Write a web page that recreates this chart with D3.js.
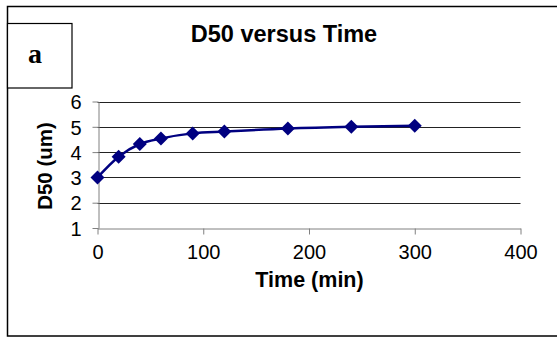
<!DOCTYPE html>
<html>
<head>
<meta charset="utf-8">
<script src="https://cdn.jsdelivr.net/npm/d3@7"></script>
<style>
  body { margin: 0; background: #fff; }
  text { font-family: Arial, "Liberation Sans", sans-serif; fill: #000; }
</style>
</head>
<body>
<div id="chart"></div>
<script>
var svgWidth = 557;
var svgHeight = 338;

// data
var timeMin = [0, 20, 40, 60, 90, 120, 180, 240, 300];
var d50 = [3.0, 3.82, 4.32, 4.54, 4.74, 4.81, 4.93, 5.0, 5.04];
var xTicks = [0, 100, 200, 300, 400];
var yTicks = [1, 2, 3, 4, 5, 6];

var data = timeMin.map((t, i) => ({ t: t, d: d50[i] }));

var svg = d3.select("#chart")
  .append("svg")
  .attr("width", svgWidth)
  .attr("height", svgHeight);

// outer frame
svg.append("rect")
  .attr("x", 7.5).attr("y", 6.5)
  .attr("width", 560).attr("height", 329.5)
  .attr("fill", "none").attr("stroke", "#000").attr("stroke-width", 1.5);

// "a" box
svg.append("rect")
  .attr("x", 7.5).attr("y", 23.5)
  .attr("width", 64.5).attr("height", 64.5)
  .attr("fill", "#fff").attr("stroke", "#000").attr("stroke-width", 1.2);
svg.append("text")
  .attr("x", 35).attr("y", 63)
  .attr("text-anchor", "middle")
  .style("font-family", "'Liberation Serif', 'Times New Roman', serif")
  .style("font-weight", "bold")
  .style("font-size", "28px")
  .text("a");

var x = d3.scaleLinear().domain([0, 400]).range([97.5, 520.5]);
var y = d3.scaleLinear().domain([1, 6]).range([228, 101.5]);

// gridlines
svg.append("g")
  .selectAll("line")
  .data(yTicks.filter(v => v > 1))
  .enter()
  .append("line")
  .attr("x1", x(0)).attr("x2", x(400))
  .attr("y1", d => Math.round(y(d)) + 0.5)
  .attr("y2", d => Math.round(y(d)) + 0.5)
  .attr("stroke", "#222").attr("stroke-width", 1);

// x axis
var xAxis = svg.append("g")
  .attr("transform", `translate(0, ${Math.round(y(1)) + 0.5})`)
  .call(d3.axisBottom(x).tickValues(xTicks).tickSize(6).tickPadding(10).tickSizeOuter(0));

// y axis
var yAxis = svg.append("g")
  .attr("transform", `translate(${Math.round(x(0)) + 0.5}, 0)`)
  .call(d3.axisLeft(y).tickValues(yTicks).tickFormat(d3.format("d"))
    .tickSize(6).tickPadding(11).tickSizeOuter(0));

[xAxis, yAxis].forEach(function(ax) {
  ax.select(".domain").attr("stroke", "#808080");
  ax.selectAll(".tick line").attr("stroke", "#808080");
  ax.selectAll(".tick text")
    .style("font-family", "Arial, 'Liberation Sans', sans-serif")
    .style("font-size", "20px")
    .attr("fill", "#000");
});
yAxis.selectAll(".tick text").attr("dy", "0.36em");

// line
var line = d3.line()
  .x(d => x(d.t))
  .y(d => y(d.d))
  .curve(d3.curveMonotoneX);

svg.append("path")
  .datum(data)
  .attr("d", line)
  .attr("fill", "none")
  .attr("stroke", "#000080")
  .attr("stroke-width", 2.5);

// diamond markers
svg.append("g")
  .selectAll("path")
  .data(data)
  .enter()
  .append("path")
  .attr("d", "M0,-7L7,0L0,7L-7,0Z")
  .attr("transform", d => `translate(${x(d.t)}, ${y(d.d)})`)
  .attr("fill", "#000080");

// title and axis labels
svg.append("text")
  .attr("x", 284).attr("y", 41.5)
  .attr("text-anchor", "middle")
  .style("font-weight", "bold")
  .style("font-size", "23.5px")
  .text("D50 versus Time");

svg.append("text")
  .attr("x", 309.5).attr("y", 287)
  .attr("text-anchor", "middle")
  .style("font-weight", "bold")
  .style("font-size", "21.5px")
  .text("Time (min)");

svg.append("text")
  .attr("transform", "translate(52, 166) rotate(-90)")
  .attr("text-anchor", "middle")
  .style("font-weight", "bold")
  .style("font-size", "20.5px")
  .text("D50 (um)");
</script>
</body>
</html>
